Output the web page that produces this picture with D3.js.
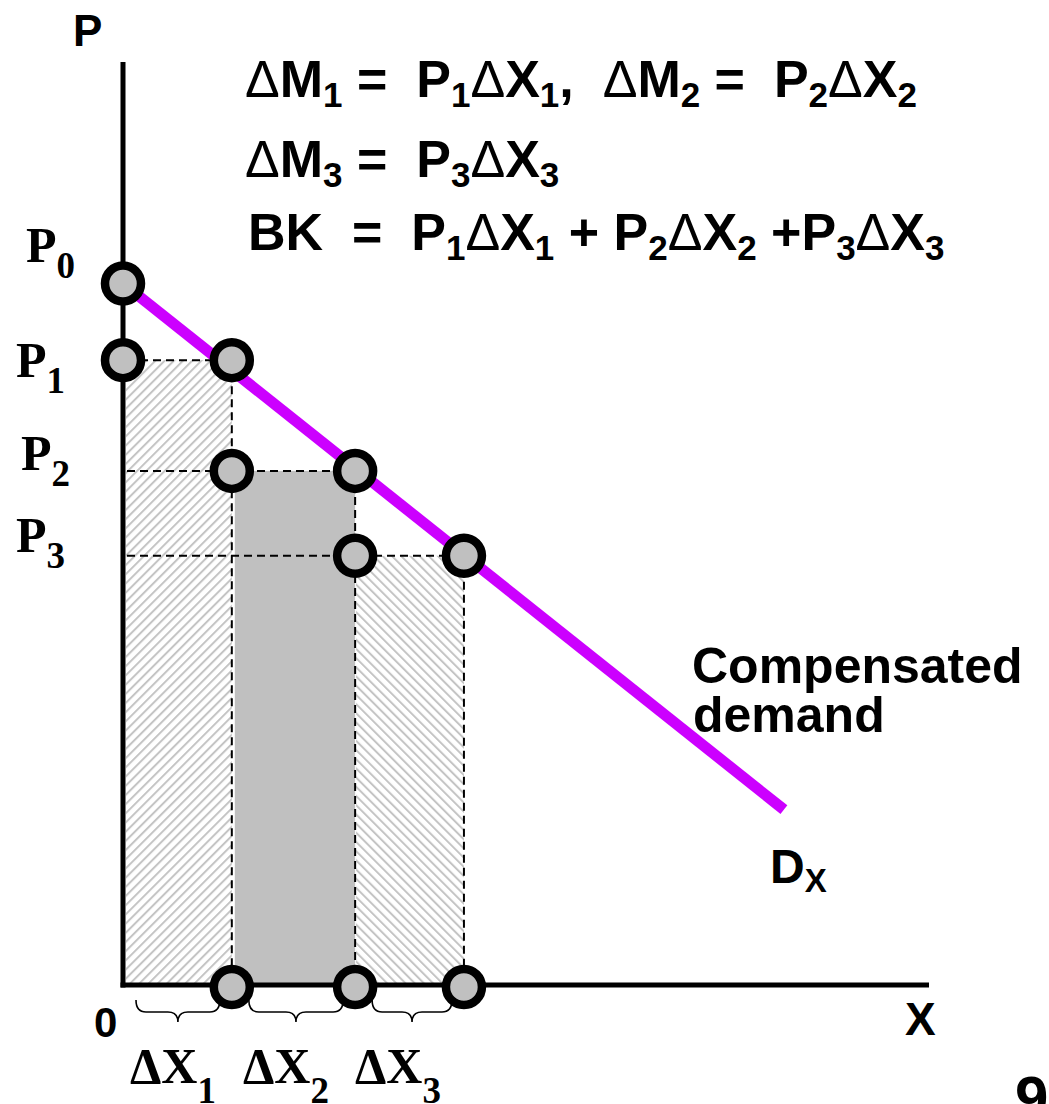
<!DOCTYPE html>
<html>
<head>
<meta charset="utf-8">
<script src="https://cdn.jsdelivr.net/npm/d3@7"></script>
<style>
  html, body { margin: 0; padding: 0; background: #fff; }
  svg { display: block; }
</style>
</head>
<body>
<svg id="chart"></svg>
<script>
// Compensated demand: price steps P0..P3 and the quantities bought at each price
const priceNames = ["0", "1", "2", "3"];
const prices = [76, 67.7, 55.7, 46.5];
const quantities = [0, 13.5, 28.8, 42.3];
const demandEnd = [82, 19];

// formula lines, "_x" = subscript x
const formulas = [
  "ΔM_1 =  P_1ΔX_1,  ΔM_2 =  P_2ΔX_2",
  "ΔM_3 =  P_3ΔX_3",
  "BK  =  P_1ΔX_1 + P_2ΔX_2 +P_3ΔX_3"
];

const width = 1049;
const height = 1104;

const x = d3.scaleLinear().domain([0, 100]).range([123, 929]);
const y = d3.scaleLinear().domain([0, 100]).range([985, 62]);

const svg = d3.select("#chart")
  .attr("width", width)
  .attr("height", height)
  .attr("viewBox", [0, 0, width, height]);

const defs = svg.append("defs");
function hatch(id, angle) {
  const p = defs.append("pattern")
    .attr("id", id)
    .attr("patternUnits", "userSpaceOnUse")
    .attr("width", 6.5)
    .attr("height", 6.5)
    .attr("patternTransform", `rotate(${angle})`);
  p.append("line")
    .attr("x1", 1).attr("y1", 0).attr("x2", 1).attr("y2", 6.5)
    .attr("stroke", "#c4c4c4")
    .attr("stroke-width", 2);
}
hatch("hatchA", 45);
hatch("hatchB", -45);

// areas under each price step
const areas = [
  { x0: quantities[0], x1: quantities[1], p: prices[1], fill: "url(#hatchA)", pad: 3 },
  { x0: quantities[1], x1: quantities[2], p: prices[2], fill: "#c0c0c0", pad: 3 },
  { x0: quantities[2], x1: quantities[3], p: prices[3], fill: "url(#hatchB)", pad: 1 }
];
svg.append("g")
  .selectAll("rect")
  .data(areas)
  .join("rect")
  .attr("x", d => x(d.x0) + d.pad)
  .attr("y", d => y(d.p))
  .attr("width", d => x(d.x1) - x(d.x0) - d.pad)
  .attr("height", d => y(0) - y(d.p))
  .attr("fill", d => d.fill);

// dashed guides
const guides = svg.append("g")
  .attr("stroke", "#000")
  .attr("stroke-width", 2)
  .attr("stroke-dasharray", "8,5")
  .attr("fill", "none");
for (let i = 1; i < prices.length; i++) {
  guides.append("line")
    .attr("x1", x(0) + 4).attr("y1", y(prices[i]))
    .attr("x2", x(quantities[i])).attr("y2", y(prices[i]));
  guides.append("line")
    .attr("x1", x(quantities[i])).attr("y1", y(prices[i]))
    .attr("x2", x(quantities[i])).attr("y2", y(0));
}

// axes
svg.append("line")
  .attr("x1", x(0)).attr("y1", y(100)).attr("x2", x(0)).attr("y2", y(0) + 2.5)
  .attr("stroke", "#000").attr("stroke-width", 5);
svg.append("line")
  .attr("x1", x(0) - 2.5).attr("y1", y(0)).attr("x2", x(100)).attr("y2", y(0))
  .attr("stroke", "#000").attr("stroke-width", 5);

// demand curve
svg.append("line")
  .attr("x1", x(0)).attr("y1", y(prices[0]))
  .attr("x2", x(demandEnd[0])).attr("y2", y(demandEnd[1]))
  .attr("stroke", "#cc00ff")
  .attr("stroke-width", 11);

// braces under the x axis
function brace(a, b, top) {
  const m = (a + b) / 2, r = 10, mid = top + 12, tip = top + 22;
  return `M${a},${top} Q${a},${mid} ${a + r},${mid} L${m - r},${mid} Q${m},${mid} ${m},${tip}` +
         ` Q${m},${mid} ${m + r},${mid} L${b - r},${mid} Q${b},${mid} ${b},${top}`;
}
svg.append("g")
  .selectAll("path")
  .data(d3.range(1, quantities.length))
  .join("path")
  .attr("d", i => brace(x(quantities[i - 1]) + (i === 1 ? 13 : 17), x(quantities[i]) - 12, y(0) + 15))
  .attr("fill", "none")
  .attr("stroke", "#000")
  .attr("stroke-width", 1.6);

// points
const pts = [
  [0, prices[0]], [0, prices[1]],
  [quantities[1], prices[1]], [quantities[1], prices[2]], [quantities[2], prices[2]],
  [quantities[2], prices[3]], [quantities[3], prices[3]],
  [quantities[1], 0], [quantities[2], 0], [quantities[3], 0]
];
svg.append("g")
  .selectAll("circle")
  .data(pts)
  .join("circle")
  .attr("cx", d => x(d[0]))
  .attr("cy", d => y(d[1]) + (d[1] === 0 ? 2 : 0))
  .attr("r", 18)
  .attr("fill", "#c0c0c0")
  .attr("stroke", "#000")
  .attr("stroke-width", 8.5);

// text helpers
const sans = "'Liberation Sans', Arial, sans-serif";
const serif = "'Liberation Serif', 'Times New Roman', serif";

function richText(str, px, py, size, subSize, subDy, family) {
  const t = svg.append("text")
    .attr("x", px).attr("y", py)
    .attr("font-family", family)
    .attr("font-weight", "bold")
    .attr("font-size", size)
    .attr("xml:space", "preserve")
    .style("white-space", "pre");
  const tokens = str.split(/(_.|Δ)/).filter(s => s.length);
  let shifted = false;
  tokens.forEach(tok => {
    const s = t.append("tspan");
    if (tok[0] === "_") {
      s.text(tok.slice(1)).attr("font-size", subSize);
      if (!shifted) s.attr("dy", subDy);
      shifted = true;
    } else {
      if (shifted) s.attr("dy", -subDy);
      shifted = false;
      s.text(tok);
      if (tok === "Δ" && family === sans) s.attr("font-weight", "normal");
    }
  });
  return t;
}

// formulas
const formulaPos = [[245, 97], [245, 177], [248, 250]];
formulas.forEach((f, i) => richText(f, formulaPos[i][0], formulaPos[i][1], 52, 35, 10, sans));

// axis labels
richText("P", 73, 46, 44, 30, 0, sans);
richText("X", 905, 1035, 46, 30, 0, sans);
richText("0", 94, 1037, 42, 30, 0, sans);
richText("9", 1015, 1118, 60, 30, 0, sans);

// price labels
const priceLabelPos = [[26, 262], [16, 377], [21, 470], [16, 552]];
priceNames.forEach((n, i) =>
  richText("P_" + n, priceLabelPos[i][0], priceLabelPos[i][1], 50, 37, 16, serif));

// quantity labels
const qLabelX = [130, 243, 355];
qLabelX.forEach((px, i) => richText("ΔX_" + (i + 1), px, 1083, 50, 37, 20, serif));

// demand labels
richText("Compensated", 692, 683, 50, 30, 0, sans);
richText("demand", 693, 732, 50, 30, 0, sans);
richText("D_X", 770, 883, 48, 33, 9, sans);
</script>
</body>
</html>
